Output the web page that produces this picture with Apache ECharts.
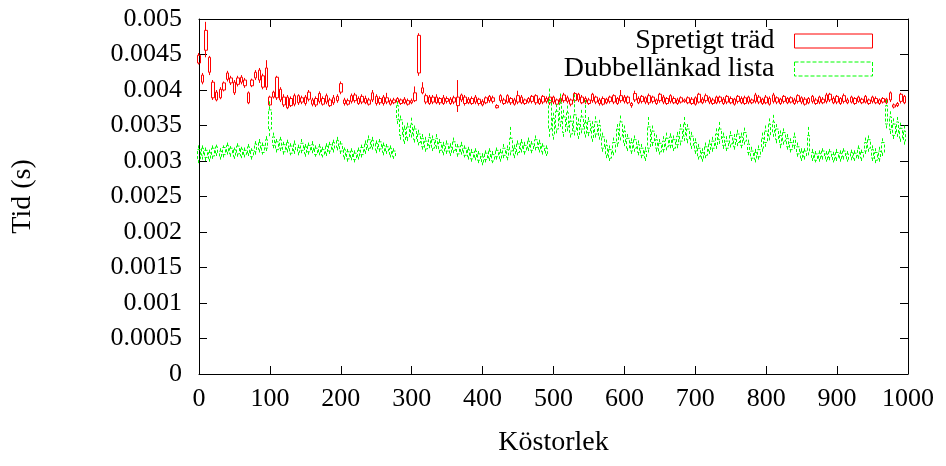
<!DOCTYPE html>
<html>
<head>
<meta charset="utf-8">
<script src="https://cdn.jsdelivr.net/npm/echarts@6/dist/echarts.min.js"></script>
<style>html,body{margin:0;padding:0;background:#fff}#c{width:946px;height:466px}</style>
</head>
<body>
<div id="c"></div>
<script>
// Köstorlek (x values of the candles)
const sizes = [0,5,10,15,20,25,30,35,40,45,50,55,60,65,70,75,80,85,90,95,
100,105,110,115,120,125,130,135,140,145,150,155,160,165,170,175,180,185,190,195,
200,205,210,215,220,225,230,235,240,245,250,255,260,265,270,275,280,285,290,295,
300,305,310,315,320,325,330,335,340,345,350,355,360,365,370,375,380,385,390,395,
400,405,410,415,420,425,430,435,440,445,450,455,460,465,470,475,480,485,490,495,
500,505,510,515,520,525,530,535,540,545,550,555,560,565,570,575,580,585,590,595,
600,605,610,615,620,625,630,635,640,645,650,655,660,665,670,675,680,685,690,695,
700,705,710,715,720,725,730,735,740,745,750,755,760,765,770,775,780,785,790,795,
800,805,810,815,820,825,830,835,840,845,850,855,860,865,870,875,880,885,890,895,
900,905,910,915,920,925,930,935,940,945,950,955,960,965,970,975,980,985,990,995];

// Spretigt träd, units of 1e-5 s
const redBoxLo = [438,411,456,425,389,386,389,400,415,410,396,408,411,406,382,406,417,414,404,404,
379,390,389,386,379,375,378,380,382,383,381,387,380,379,384,380,383,378,382,385,
397,381,380,384,385,381,383,382,380,386,381,382,381,383,380,382,383,381,382,380,
382,385,424,396,383,381,383,382,382,381,384,381,383,378,386,381,382,381,383,381,
379,382,385,384,375,385,381,383,382,380,383,382,381,383,384,382,381,383,384,382,
383,380,383,385,384,380,385,386,382,383,381,385,383,381,380,382,384,383,381,385,
384,382,378,386,382,384,383,382,384,381,385,383,381,384,382,381,383,384,382,381,
380,383,382,385,383,381,382,384,381,383,382,380,384,382,381,383,382,384,383,381,
382,380,384,383,381,384,382,383,381,384,383,380,382,384,381,383,382,384,386,382,
383,381,384,382,383,381,384,382,383,381,384,382,381,383,382,386,376,378,384,382];
const redBoxHi = [449,421,484,446,411,397,401,410,424,417,411,417,418,414,396,414,425,428,420,431,
390,397,418,401,390,390,388,392,392,389,390,397,386,388,395,388,392,386,389,391,
409,386,385,392,393,388,391,388,386,396,391,388,390,389,385,386,388,386,387,385,
385,396,477,403,392,390,390,390,388,389,388,387,389,390,393,390,387,388,390,387,
384,389,391,389,378,392,386,392,388,386,392,390,386,388,391,392,387,391,388,390,
390,386,388,393,389,386,395,394,390,388,386,394,390,386,388,387,390,392,388,392,
390,390,381,395,388,391,389,392,390,386,394,390,388,392,388,386,389,386,389,387,
389,394,387,392,389,386,390,390,387,391,388,387,391,388,389,390,386,393,390,387,
390,388,393,389,387,391,388,389,386,392,389,387,388,391,386,390,387,393,394,388,
391,388,392,386,390,388,390,387,391,386,390,388,386,388,387,396,379,381,394,391];
const redLow = [436,408,446,421,386,384,387,398,412,407,393,405,408,403,380,404,414,410,401,400,
377,388,386,383,376,373,376,377,379,380,378,384,377,376,381,378,380,376,379,382,
394,378,378,381,382,379,380,380,378,383,378,379,378,380,378,380,380,379,380,378,
380,383,420,394,380,379,380,380,379,379,381,379,380,369,383,378,380,379,380,378,
377,380,382,381,374,382,379,381,379,378,380,380,379,381,381,379,379,380,381,379,
380,378,381,382,381,377,382,383,380,380,379,382,380,378,378,380,381,380,379,382,
381,380,375,383,380,381,380,379,381,379,382,380,379,381,380,379,381,382,380,379,
378,381,380,382,380,379,380,381,379,380,380,378,381,380,379,380,380,381,380,379,
380,378,381,380,379,381,380,381,379,381,380,378,380,381,379,380,380,381,383,380,
380,379,381,380,381,379,382,380,381,379,381,380,379,381,380,383,374,376,381,380];
const redHigh = [452,424,496,448,414,400,404,412,427,420,414,420,421,417,398,416,428,431,423,442,
392,399,420,404,394,393,391,395,394,392,393,400,389,391,398,391,395,389,393,394,
412,389,388,395,396,391,394,392,389,400,394,391,393,396,388,389,390,388,390,388,
388,405,480,411,395,393,393,394,390,393,391,390,392,414,395,393,390,391,393,389,
387,391,393,392,380,394,389,394,390,389,399,393,388,390,393,394,389,393,391,392,
392,388,391,396,392,388,397,396,393,391,389,396,392,389,391,389,392,394,390,400,
393,392,383,399,391,393,391,395,392,388,396,393,390,394,391,389,391,388,391,390,
391,396,390,395,391,389,392,392,390,393,391,389,393,391,392,392,388,396,393,389,
393,391,396,391,389,393,390,391,389,394,391,390,390,393,389,392,390,396,396,391,
393,390,395,389,392,390,392,389,393,388,392,391,388,390,389,398,381,383,396,393];

// Dubbellänkad lista, units of 1e-5 s
const greenBoxLo = [303,308,305,303,307,311,306,309,313,310,306,310,307,309,311,306,313,316,312,318,
345,322,316,318,313,316,311,314,312,315,310,313,315,309,312,308,311,314,316,319,
314,306,303,305,302,306,309,314,318,320,315,317,312,314,309,306,358,336,328,333,
338,330,326,320,317,322,318,321,315,312,314,311,315,310,313,308,306,303,305,301,
298,302,304,300,306,303,308,305,314,308,312,316,313,318,315,319,316,313,310,345,
336,345,355,340,348,338,342,336,345,338,340,332,338,335,318,308,304,312,325,335,
326,318,314,318,312,308,304,318,326,318,313,316,320,322,318,323,328,335,330,322,
314,306,303,308,314,318,322,330,322,318,324,320,326,322,328,312,304,302,306,318,
326,335,340,330,323,328,320,316,322,310,304,306,314,304,301,303,306,302,305,301,
304,303,306,302,305,303,307,304,314,318,304,301,303,312,352,344,336,340,332,328];
const greenBoxHi = [316,318,315,312,318,320,314,319,322,318,316,321,317,315,320,315,324,326,322,330,
372,334,327,330,323,326,321,324,319,325,320,322,323,318,320,316,321,323,326,329,
324,316,313,314,311,315,319,324,330,329,325,327,322,320,318,314,378,358,345,348,
352,345,338,332,328,333,330,332,326,322,324,320,327,320,322,318,316,312,314,310,
306,311,314,309,315,312,318,316,332,318,324,326,322,328,324,330,325,321,318,385,
360,370,382,362,368,356,365,352,362,354,356,348,355,350,334,322,316,326,345,355,
342,332,326,330,323,318,314,348,342,330,325,328,332,334,330,335,345,352,345,335,
326,318,312,320,324,328,338,345,334,328,336,331,338,334,340,324,314,312,316,332,
342,352,355,345,336,340,332,326,334,320,313,314,336,312,310,311,314,310,313,309,
312,311,314,310,312,311,318,312,326,330,316,312,314,326,378,362,352,355,346,342];
const greenLow = [297,302,300,299,303,307,302,305,309,306,303,306,304,305,307,302,309,312,309,314,
335,318,312,314,309,312,308,310,308,311,306,309,311,306,308,305,307,310,312,315,
310,302,299,301,298,302,305,310,314,316,311,313,308,310,305,303,352,330,324,328,
333,326,322,316,313,318,314,317,311,308,310,307,311,306,309,305,302,299,301,297,
294,298,300,297,302,299,304,301,308,304,308,312,309,314,311,315,312,309,307,334,
330,339,348,334,342,333,336,331,339,333,335,327,333,330,313,304,300,308,320,329,
321,314,310,313,308,304,300,312,321,313,309,312,315,318,314,318,322,328,325,317,
310,302,299,304,310,313,317,324,317,314,319,316,321,318,323,308,300,298,302,313,
320,329,334,325,318,323,316,312,317,306,300,302,308,300,298,299,302,299,301,298,
300,299,302,299,301,300,303,300,310,313,300,297,299,307,346,338,331,334,327,323];
const greenHigh = [322,322,319,316,322,323,318,322,326,321,319,325,320,319,324,318,328,331,326,335,
384,340,331,334,327,330,325,329,323,331,324,326,328,322,324,320,325,327,330,334,
328,319,317,318,315,319,323,329,336,334,329,331,326,324,322,318,384,364,350,354,
361,350,344,338,334,339,336,338,331,327,329,325,333,324,327,322,320,317,318,314,
311,315,318,314,319,317,324,322,348,323,329,331,327,333,328,336,330,325,322,402,
368,380,395,372,378,364,394,360,372,386,362,356,363,358,340,330,322,333,352,364,
350,338,332,336,329,324,320,362,350,337,331,335,340,339,336,341,352,362,352,341,
332,324,318,326,330,334,346,355,340,335,342,338,344,340,347,330,320,317,322,340,
350,360,365,352,343,346,338,332,340,326,318,318,348,317,314,315,318,314,317,313,
317,315,318,314,316,315,322,316,333,336,322,318,320,332,386,370,360,362,354,350];

const yTickLabels = ['0','0.0005','0.001','0.0015','0.002','0.0025','0.003','0.0035','0.004','0.0045','0.005'];
const xTickLabels = ['0','100','200','300','400','500','600','700','800','900','1000'];
const seriesNames = ['Spretigt träd','Dubbellänkad lista'];

const U = 1e-5;
function build(lo, hi, low, high) {
  return sizes.map((s, i) => [s, lo[i] * U, hi[i] * U, low[i] * U, high[i] * U]);
}

const FONT = 'Liberation Serif';
const FS = 26;
const FS2 = 28;
const chart = echarts.init(document.getElementById('c'), null, {renderer: 'canvas'});

const axisCommon = {
  type: 'value', min: 0, max: 1000, interval: 100,
  axisLine: {show: true, onZero: false, lineStyle: {color: '#000', width: 1}},
  axisTick: {show: true, inside: true, length: 8, lineStyle: {color: '#000'}},
  splitLine: {show: false}
};
const yCommon = {
  type: 'value', min: 0, max: 0.005, interval: 0.0005,
  axisLine: {show: true, onZero: false, lineStyle: {color: '#000', width: 1}},
  axisTick: {show: true, inside: true, length: 8, lineStyle: {color: '#000'}},
  splitLine: {show: false}
};

chart.setOption({
  animation: false,
  backgroundColor: '#fff',
  textStyle: {fontFamily: FONT},
  grid: {left: 199, right: 38, top: 19, bottom: 92, containLabel: false},
  legend: {
    orient: 'vertical', right: 73, top: 27, align: 'right',
    itemWidth: 78, itemHeight: 14, itemGap: 0, padding: 0,
    selectedMode: false,
    textStyle: {fontFamily: FONT, fontSize: FS2, color: '#000', lineHeight: 28, padding: [0, 15, 0, 0]},
    data: [
      {name: seriesNames[0], icon: 'rect', itemStyle: {color: 'rgba(0,0,0,0)', borderColor: '#ff0000', borderWidth: 1}},
      {name: seriesNames[1], icon: 'rect', itemStyle: {color: 'rgba(0,0,0,0)', borderColor: '#00ff00', borderWidth: 1, borderType: 'dashed'}}
    ]
  },
  xAxis: [
    Object.assign({}, axisCommon, {
      position: 'bottom',
      name: 'Köstorlek', nameLocation: 'middle', nameGap: 55,
      nameTextStyle: {fontFamily: FONT, fontSize: FS2, color: '#000'},
      axisLabel: {fontFamily: FONT, fontSize: FS, color: '#000', margin: 12,
        formatter: (v, i) => xTickLabels[i]}
    }),
    Object.assign({}, axisCommon, {position: 'top', axisLabel: {show: false}})
  ],
  yAxis: [
    Object.assign({}, yCommon, {
      position: 'left',
      name: 'Tid (s)', nameLocation: 'middle', nameGap: 162, nameRotate: 90,
      nameTextStyle: {fontFamily: FONT, fontSize: FS2, color: '#000'},
      axisLabel: {fontFamily: FONT, fontSize: FS, color: '#000', margin: 17,
        formatter: (v, i) => yTickLabels[i]}
    }),
    Object.assign({}, yCommon, {position: 'right', axisLabel: {show: false}})
  ],
  series: [
    {
      name: seriesNames[0], type: 'candlestick', xAxisIndex: 0, yAxisIndex: 0,
      barWidth: 3,
      encode: {x: 0, y: [1, 2, 3, 4]},
      itemStyle: {color: 'rgba(0,0,0,0)', color0: 'rgba(0,0,0,0)', borderColor: '#ff0000', borderColor0: '#ff0000', borderColorDoji: '#ff0000', borderWidth: 1},
      emphasis: {disabled: true},
      data: build(redBoxLo, redBoxHi, redLow, redHigh)
    },
    {
      name: seriesNames[1], type: 'candlestick', xAxisIndex: 0, yAxisIndex: 0,
      barWidth: 3,
      encode: {x: 0, y: [1, 2, 3, 4]},
      itemStyle: {color: 'rgba(0,0,0,0)', color0: 'rgba(0,0,0,0)', borderColor: '#00ff00', borderColor0: '#00ff00', borderColorDoji: '#00ff00', borderWidth: 1, borderType: [3, 2]},
      emphasis: {disabled: true},
      data: build(greenBoxLo, greenBoxHi, greenLow, greenHigh)
    }
  ]
});
</script>
</body>
</html>
